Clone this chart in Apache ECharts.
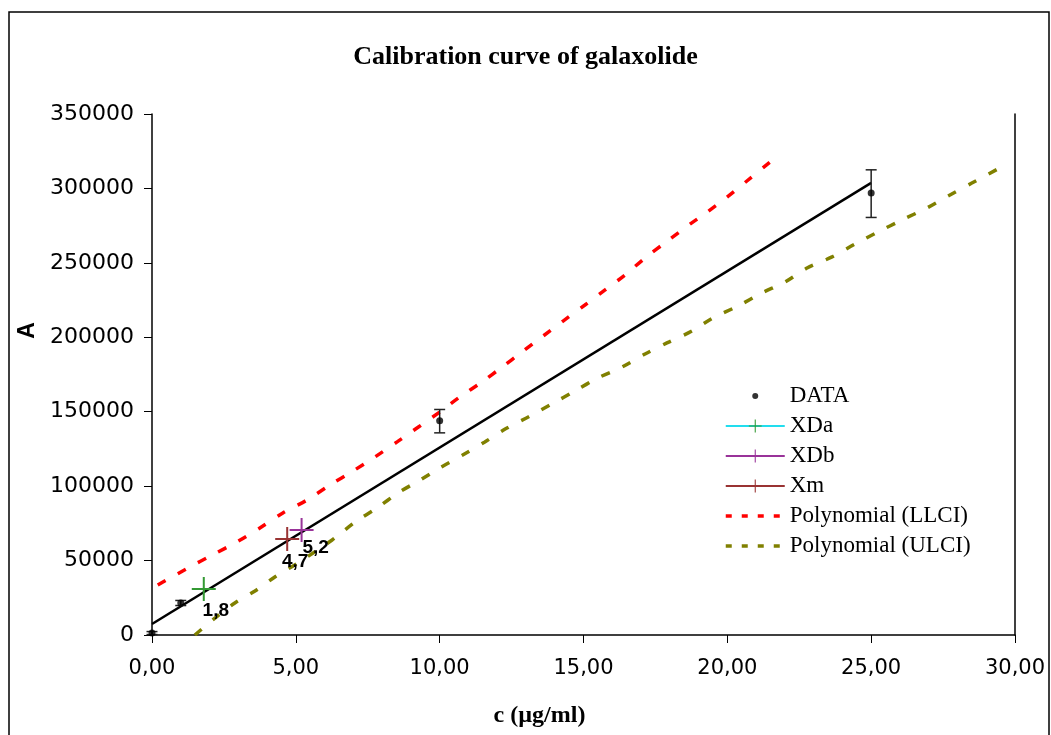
<!DOCTYPE html>
<html><head><meta charset="utf-8">
<script src="https://cdn.jsdelivr.net/npm/echarts@6/dist/echarts.min.js"></script>
<style>html,body{margin:0;padding:0;background:#fff}#c{width:1051px;height:735px}</style>
</head><body><div id="c"></div>
<script>
// ---- data ----
const dataX = [0, 1, 10, 25];
const dataA = [1300, 21500, 144000, 297000];
const errLow = [300, 19800, 135800, 280500];
const errHigh = [2300, 23200, 151500, 312500];

const fitX = [0, 25];
const fitA = [7400, 303700];

const xDa = [1.8, 30900];
const xDb = [5.2, 70500];
const xM = [4.7, 64500];

const llciX = [0.2, 1.25, 2.09, 2.95, 3.75, 4.55, 5.39, 6.19, 6.99, 7.75, 8.52, 10.0, 10.7, 11.47, 12.17, 12.86, 13.6, 14.29, 15.05, 15.75, 16.44, 17.14, 17.94, 18.7, 19.29, 19.99, 20.68, 21.5];
const llciA = [33600, 45000, 53700, 62500, 71900, 82000, 90700, 100800, 110200, 119600, 129700, 149800, 159900, 170000, 180000, 190100, 200900, 210900, 221700, 231800, 241800, 253300, 265000, 276000, 284000, 294200, 305000, 318000];

const ulciX = [1.49, 2.19, 2.88, 3.58, 4.27, 5.07, 6.26, 7.06, 7.82, 8.55, 9.32, 10.0, 10.8, 11.57, 12.34, 13.14, 13.9, 14.7, 15.5, 16.34, 17.14, 17.9, 18.77, 19.5, 20.37, 21.2, 22.0, 22.77, 23.64, 24.44, 25.23, 26.07, 26.94, 27.67, 28.5, 29.54];
const ulciA = [0, 11400, 21500, 29600, 39000, 48400, 63800, 75900, 85300, 95400, 104100, 112200, 120900, 129700, 139000, 147100, 155200, 163900, 172700, 180000, 188800, 196200, 204200, 213000, 221000, 229800, 237100, 246500, 254000, 262700, 270700, 278800, 286900, 294900, 303600, 314500];

const xTicks = {min: 0, max: 30, interval: 5};
const yTicks = {min: 0, max: 350000, interval: 50000};
const legendNames = ['DATA', 'XDa', 'XDb', 'Xm', 'Polynomial (LLCI)', 'Polynomial (ULCI)'];
// --------------------------------------

const zip = (xs, ys) => xs.map((x, i) => [x, ys[i]]);
const crossPath = 'path://M0,11H24V13H0Z M11,0H13V24H11Z';
// small dot centred in a 59x16 box (tiny corner specks fix the box)
const dotLegend = 'path://M0,0h0.01v0.01h-0.01Z M59,16h0.01v0.01h-0.01Z M26.5,8a3,3 0 1,0 6,0a3,3 0 1,0 -6,0Z';
const commaFmt = v => String(v).replace('.', ',');
const ptLabel = (off) => ({
  show: true, position: 'inside', offset: off,
  formatter: p => commaFmt(p.value[0]),
  fontFamily: 'Liberation Sans', fontWeight: 'bold', fontSize: 19, color: '#000'
});
const clear = 'rgba(0,0,0,0)';

const chart = echarts.init(document.getElementById('c'), null, {renderer: 'canvas'});
const legendText = {fontFamily: 'Liberation Serif', fontSize: 23, color: '#000', lineHeight: 30};

chart.setOption({
  animation: false,
  backgroundColor: '#fff',
  title: {
    text: 'Calibration curve of galaxolide', left: 'center', top: 39,
    textStyle: {fontFamily: 'Liberation Serif', fontWeight: 'bold', fontSize: 26, color: '#000'}
  },
  graphic: [{
    type: 'rect', shape: {x: 9, y: 12, width: 1040, height: 740},
    style: {fill: 'none', stroke: '#000', lineWidth: 1.5}, silent: true
  }],
  grid: {left: 152, right: 36, top: 114, bottom: 100, containLabel: false},
  legend: {
    data: [
      {name: legendNames[0], icon: dotLegend},
      {name: legendNames[1]},
      {name: legendNames[2]},
      {name: legendNames[3]},
      {name: legendNames[4], lineStyle: {type: [6, 10], width: 3.5}},
      {name: legendNames[5], lineStyle: {type: [6, 10], width: 3.5}}
    ],
    orient: 'vertical', left: 724, top: 381, padding: 0,
    itemWidth: 59, itemHeight: 16, itemGap: 0,
    textStyle: legendText
  },
  xAxis: {
    type: 'value', min: xTicks.min, max: xTicks.max, interval: xTicks.interval,
    name: 'c (µg/ml)', nameLocation: 'middle', nameGap: 69,
    nameTextStyle: {fontFamily: 'Liberation Serif', fontWeight: 'bold', fontSize: 24, color: '#000', padding: [0, 88, 0, 0]},
    axisLine: {show: true, onZero: false, lineStyle: {color: '#000', width: 1.5}},
    axisTick: {show: true, inside: false, length: 8, lineStyle: {color: '#000', width: 1}},
    axisLabel: {margin: 23, fontFamily: 'DejaVu Sans', fontSize: 21, color: '#000', formatter: v => v.toFixed(2).replace('.', ',')},
    splitLine: {show: false}
  },
  yAxis: [{
    type: 'value', min: yTicks.min, max: yTicks.max, interval: yTicks.interval,
    name: 'A', nameLocation: 'middle', nameGap: 106, nameRotate: 90,
    nameTextStyle: {fontFamily: 'Liberation Sans', fontWeight: 'bold', fontSize: 23, color: '#000', padding: [0, 0, 0, 88]},
    axisLine: {show: true, onZero: false, lineStyle: {color: '#000', width: 1.5}},
    axisTick: {show: true, inside: false, length: 8, lineStyle: {color: '#000', width: 1}},
    axisLabel: {margin: 18, fontFamily: 'DejaVu Sans', fontSize: 22, color: '#000', formatter: v => String(v)},
    splitLine: {show: false}
  }, {
    type: 'value', position: 'right', min: yTicks.min, max: yTicks.max, interval: yTicks.interval,
    axisLine: {show: true, onZero: false, lineStyle: {color: '#000', width: 1.5}},
    axisTick: {show: false}, axisLabel: {show: false}, splitLine: {show: false}
  }],
  series: [
    {
      name: legendNames[4], type: 'line', data: zip(llciX, llciA), symbol: 'none',
      smooth: 0.3, itemStyle: {color: clear},
      lineStyle: {color: '#FF0000', width: 3.5, type: [9, 14]}, z: 2
    },
    {
      name: legendNames[5], type: 'line', data: zip(ulciX, ulciA), symbol: 'none',
      smooth: 0.3, itemStyle: {color: clear},
      lineStyle: {color: '#808000', width: 3.5, type: [9, 14]}, z: 2
    },
    {
      name: 'fit', type: 'line', data: zip(fitX, fitA), symbol: 'none',
      lineStyle: {color: '#000', width: 2.5}, z: 3
    },
    {
      name: 'errors', type: 'custom', z: 4,
      data: dataX.map((x, i) => [x, errLow[i], errHigh[i]]),
      renderItem: (params, api) => {
        const lo = api.coord([api.value(0), api.value(1)]);
        const hi = api.coord([api.value(0), api.value(2)]);
        const w = 5.5;
        const st = {stroke: '#222', lineWidth: 1.5};
        return {type: 'group', children: [
          {type: 'line', shape: {x1: lo[0], y1: lo[1], x2: hi[0], y2: hi[1]}, style: st},
          {type: 'line', shape: {x1: lo[0] - w, y1: lo[1], x2: lo[0] + w, y2: lo[1]}, style: st},
          {type: 'line', shape: {x1: hi[0] - w, y1: hi[1], x2: hi[0] + w, y2: hi[1]}, style: st}
        ]};
      }
    },
    {
      name: legendNames[0], type: 'scatter', data: zip(dataX, dataA),
      symbol: 'circle', symbolSize: 7, itemStyle: {color: '#000'}, z: 5
    },
    {
      name: legendNames[1], type: 'line', data: [xDa], symbol: crossPath, symbolSize: 24, showSymbol: true,
      itemStyle: {color: '#339933'}, lineStyle: {color: '#22DDEE', width: 1.5},
      label: ptLabel([12, 22]), z: 6
    },
    {
      name: legendNames[2], type: 'line', data: [xDb], symbol: crossPath, symbolSize: 24, showSymbol: true,
      itemStyle: {color: '#993399'}, lineStyle: {color: '#993399', width: 1.5},
      label: ptLabel([14, 18]), z: 6
    },
    {
      name: legendNames[3], type: 'line', data: [xM], symbol: crossPath, symbolSize: 24, showSymbol: true,
      itemStyle: {color: '#993333'}, lineStyle: {color: '#993333', width: 1.5},
      label: ptLabel([8, 23]), z: 6
    }
  ]
});
</script>
</body></html>
